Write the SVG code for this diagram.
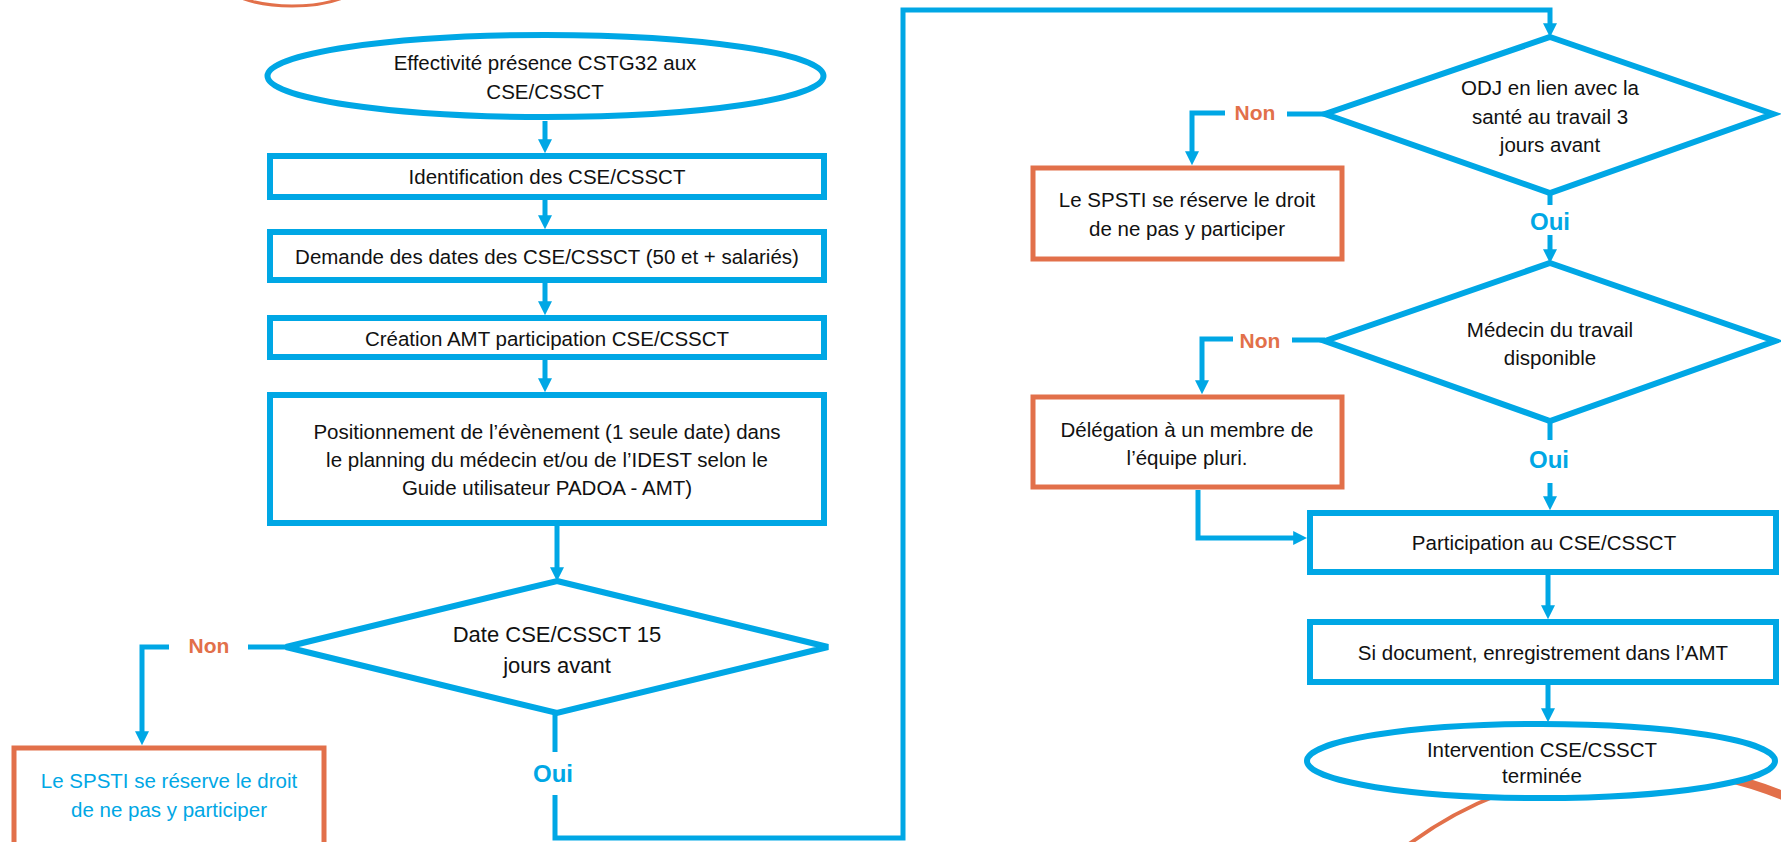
<svg xmlns="http://www.w3.org/2000/svg" width="1781" height="842" viewBox="0 0 1781 842">
<defs>
<style>
.t{font-family:"Liberation Sans",Arial,sans-serif;font-size:20.5px;fill:#111;text-anchor:middle}
.tb{fill:#00A7E5}
.dt{font-size:22px}
.non{font-family:"Liberation Sans",Arial,sans-serif;font-size:21px;font-weight:bold;fill:#E2704A;text-anchor:middle}
.oui{font-family:"Liberation Sans",Arial,sans-serif;font-size:24px;font-weight:bold;fill:#00A7E5;text-anchor:middle}
.bl{fill:#fff;stroke:#00A7E5;stroke-width:6}
.or{fill:#fff;stroke:#E2704A;stroke-width:5}
.c{fill:none;stroke:#00A7E5;stroke-width:5}
.ca{fill:none;stroke:#00A7E5;stroke-width:5;marker-end:url(#ah)}
.deco{fill:none;stroke:#E2704A}
</style>
<marker id="ah" viewBox="0 0 10 10" refX="2" refY="5" markerWidth="14" markerHeight="14" markerUnits="userSpaceOnUse" orient="auto">
<path d="M0,0 L10,5 L0,10 z" fill="#00A7E5"/>
</marker>
</defs>
<rect width="1781" height="842" fill="#fff"/>

<g id="decor">
<ellipse cx="292" cy="-20" rx="70" ry="26" class="deco" stroke-width="3"/>
<path d="M1395 855 A387 387 0 0 1 1500 794" class="deco" stroke-width="4"/>
<path d="M1720 776 A387 387 0 0 1 1800 803" class="deco" stroke-width="9"/>
</g>

<g id="connectors">
<path class="ca" d="M545 121 V142"/>
<path class="ca" d="M545 200 V218"/>
<path class="ca" d="M545 283 V304"/>
<path class="ca" d="M545 360 V381"/>
<path class="ca" d="M557 526 V570"/>
<path class="c" d="M286 647 H248"/>
<path class="ca" d="M169 647 H142 V734"/>
<path class="c" d="M555 713 V752"/>
<path class="ca" d="M555 795 V838 H903 V10 H1550 V26"/>
<path class="c" d="M1325 114 H1287"/>
<path class="ca" d="M1225 113 H1192 V154"/>
<path class="c" d="M1550 193 V205"/>
<path class="ca" d="M1550 235 V252"/>
<path class="c" d="M1325 340 H1292"/>
<path class="ca" d="M1233 339 H1202 V383"/>
<path class="c" d="M1550 421 V440"/>
<path class="ca" d="M1550 483 V499"/>
<path class="ca" d="M1198 490 V538 H1296"/>
<path class="ca" d="M1548 575 V608"/>
<path class="ca" d="M1548 685 V711"/>
<text class="non" x="209" y="653">Non</text>
<text class="oui" x="553" y="782">Oui</text>
<text class="non" x="1255" y="120">Non</text>
<text class="oui" x="1550" y="230">Oui</text>
<text class="non" x="1260" y="348">Non</text>
<text class="oui" x="1549" y="468">Oui</text>
</g>

<g id="start">
<ellipse class="bl" cx="545.5" cy="76" rx="278" ry="41"/>
<text class="t" x="545" y="70">Effectivité présence CSTG32 aux</text>
<text class="t" x="545" y="99">CSE/CSSCT</text>
</g>
<g id="identification">
<rect class="bl" x="270" y="156" width="554" height="41"/>
<text class="t" x="547" y="184">Identification des CSE/CSSCT</text>
</g>
<g id="demande">
<rect class="bl" x="270" y="232" width="554" height="48"/>
<text class="t" x="547" y="264">Demande des dates des CSE/CSSCT (50 et + salariés)</text>
</g>
<g id="creation">
<rect class="bl" x="270" y="318" width="554" height="39"/>
<text class="t" x="547" y="346">Création AMT participation CSE/CSSCT</text>
</g>
<g id="positionnement">
<rect class="bl" x="270" y="395" width="554" height="128"/>
<text class="t" x="547" y="439">Positionnement de l’évènement (1 seule date) dans</text>
<text class="t" x="547" y="467">le planning du médecin et/ou de l’IDEST selon le</text>
<text class="t" x="547" y="495">Guide utilisateur PADOA - AMT)</text>
</g>
<g id="decision-date">
<polygon class="bl" points="557,581 828,647 557,713 286,647"/>
<text class="t dt" x="557" y="642">Date CSE/CSSCT 15</text>
<text class="t dt" x="557" y="673">jours avant</text>
</g>
<g id="refus-1">
<rect class="or" x="14" y="748" width="310" height="110"/>
<text class="t tb" x="169" y="788">Le SPSTI se réserve le droit</text>
<text class="t tb" x="169" y="817">de ne pas y participer</text>
</g>

<g id="decision-odj">
<polygon class="bl" points="1550,37 1773,114 1550,193 1325,114"/>
<text class="t" x="1550" y="95">ODJ en lien avec la</text>
<text class="t" x="1550" y="123.5">santé au travail 3</text>
<text class="t" x="1550" y="152">jours avant</text>
</g>
<g id="refus-2">
<rect class="or" x="1033" y="168" width="309" height="91"/>
<text class="t" x="1187" y="207">Le SPSTI se réserve le droit</text>
<text class="t" x="1187" y="236">de ne pas y participer</text>
</g>
<g id="decision-medecin">
<polygon class="bl" points="1550,263 1775,341 1550,421 1325,341"/>
<text class="t" x="1550" y="337">Médecin du travail</text>
<text class="t" x="1550" y="365">disponible</text>
</g>
<g id="delegation">
<rect class="or" x="1033" y="397" width="309" height="90"/>
<text class="t" x="1187" y="437">Délégation à un membre de</text>
<text class="t" x="1187" y="465">l’équipe pluri.</text>
</g>
<g id="participation">
<rect class="bl" x="1310" y="513" width="466" height="59"/>
<text class="t" x="1544" y="550">Participation au CSE/CSSCT</text>
</g>
<g id="document">
<rect class="bl" x="1310" y="622" width="466" height="60"/>
<text class="t" x="1543" y="660">Si document, enregistrement dans l’AMT</text>
</g>
<g id="fin">
<ellipse class="bl" cx="1541" cy="761" rx="234" ry="37"/>
<text class="t" x="1542" y="757">Intervention CSE/CSSCT</text>
<text class="t" x="1542" y="783">terminée</text>
</g>
</svg>
